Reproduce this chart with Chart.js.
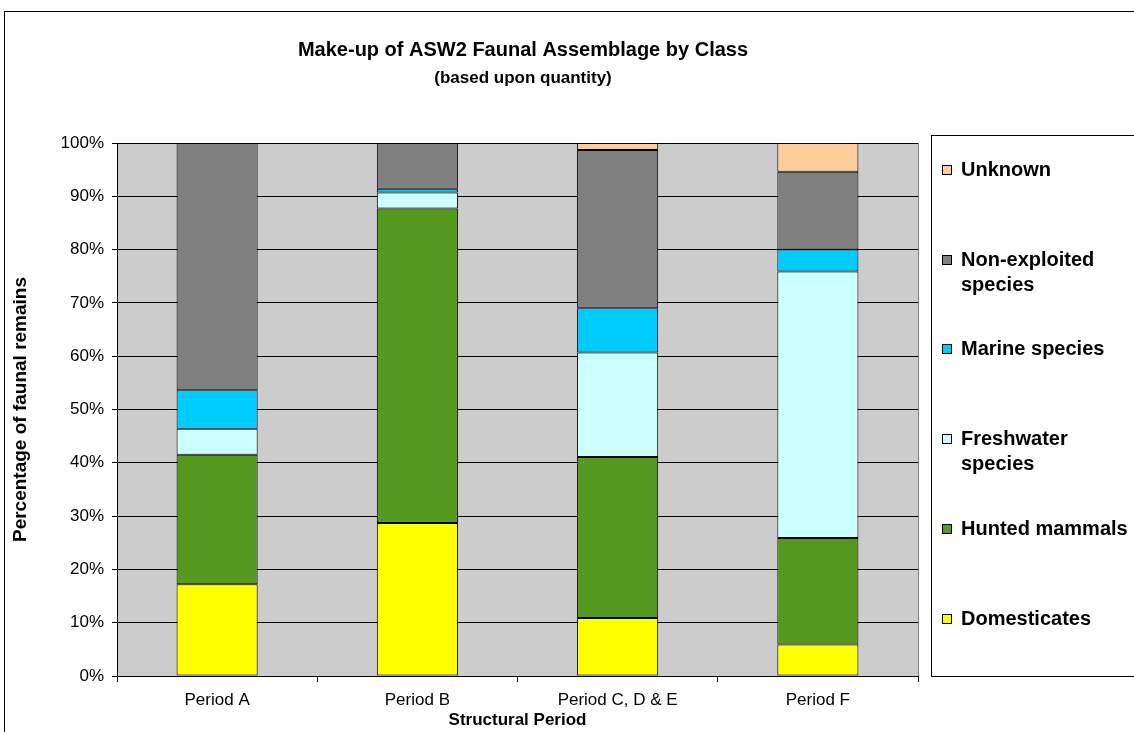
<!DOCTYPE html>
<html>
<head>
<meta charset="utf-8">
<script src="https://cdn.jsdelivr.net/npm/chart.js@4.4.1/dist/chart.umd.min.js"></script>
<style>
  html, body { margin: 0; padding: 0; background: #fff; }
  #wrap { width: 1134px; height: 732px; position: relative; }
</style>
</head>
<body>
<div id="wrap"><canvas id="myChart" width="1134" height="732"></canvas></div>
<script>
const categories = ['Period A', 'Period B', 'Period C, D & E', 'Period F'];
const domesticates = [17.2, 28.7, 10.9, 5.9];
const huntedMammals = [24.3, 59.0, 30.2, 20.0];
const freshwater = [4.9, 3.0, 19.6, 50.0];
const marine = [7.2, 0.7, 8.3, 4.1];
const nonExploited = [46.4, 8.6, 29.7, 14.6];
const unknown = [0, 0, 1.3, 5.4];
const yTickValues = [0, 10, 20, 30, 40, 50, 60, 70, 80, 90, 100];

const FONT = "'Liberation Sans', Arial, sans-serif";

const series = [
    { label: 'Domesticates', data: domesticates, color: '#FFFF00' },
    { label: 'Hunted mammals', data: huntedMammals, color: '#559A1E' },
    { label: 'Freshwater species', data: freshwater, color: '#CCFFFF' },
    { label: 'Marine species', data: marine, color: '#00CCFF' },
    { label: 'Non-exploited species', data: nonExploited, color: '#808080' },
    { label: 'Unknown', data: unknown, color: '#FFCC99' }
];

// legend entries, top to bottom (lines + y of first line)
const legendItems = [
    { lines: ['Unknown'], y: 170, color: '#FFCC99' },
    { lines: ['Non-exploited', 'species'], y: 260, color: '#808080' },
    { lines: ['Marine species'], y: 349, color: '#00CCFF' },
    { lines: ['Freshwater', 'species'], y: 439, color: '#CCFFFF' },
    { lines: ['Hunted mammals'], y: 529, color: '#559A1E' },
    { lines: ['Domesticates'], y: 619, color: '#FFFF00' }
];

const decor = {
    id: 'decor',
    beforeDraw(chart) {
        const c = chart.ctx, a = chart.chartArea;
        c.save();
        c.fillStyle = '#fff';
        c.fillRect(0, 0, chart.width, chart.height);
        c.fillStyle = '#CCCCCC';
        c.fillRect(a.left, a.top, a.right - a.left, a.bottom - a.top);
        c.strokeStyle = '#808080';
        c.lineWidth = 1;
        c.beginPath();
        c.moveTo(Math.round(a.right) + 0.5, a.top);
        c.lineTo(Math.round(a.right) + 0.5, a.bottom);
        c.stroke();
        c.restore();
    },
    afterDraw(chart) {
        const c = chart.ctx;
        c.save();
        // outer chart border
        c.strokeStyle = '#000';
        c.lineWidth = 1;
        c.strokeRect(4.5, 11.5, 1300, 900);
        // titles
        c.fillStyle = '#000';
        c.textAlign = 'center';
        c.textBaseline = 'middle';
        c.font = 'bold 20px ' + FONT;
        c.fillText('Make-up of ASW2 Faunal Assemblage by Class', 523, 50);
        c.font = 'bold 17px ' + FONT;
        c.fillText('(based upon quantity)', 523, 78);
        // legend box
        c.strokeRect(931.5, 135.5, 400, 541);
        c.textAlign = 'left';
        c.font = 'bold 20px ' + FONT;
        legendItems.forEach(it => {
            c.fillStyle = it.color;
            c.fillRect(942, it.y - 5, 10, 10);
            c.strokeStyle = '#000';
            c.strokeRect(942.5, it.y - 4.5, 9, 9);
            c.fillStyle = '#000';
            it.lines.forEach((ln, i) => c.fillText(ln, 961, it.y + i * 25));
        });
        c.restore();
    }
};

const ctx = document.getElementById('myChart');
new Chart(ctx, {
    type: 'bar',
    data: {
        labels: categories,
        datasets: series.map(s => ({
            label: s.label,
            data: s.data,
            backgroundColor: s.color,
            borderColor: '#000',
            borderWidth: 1,
            borderSkipped: false,
            categoryPercentage: 1,
            barPercentage: 0.405
        }))
    },
    options: {
        responsive: false,
        animation: false,
        layout: { padding: { left: 0, right: 216, top: 143, bottom: 0 } },
        plugins: { legend: { display: false }, title: { display: false }, tooltip: { enabled: false } },
        scales: {
            x: {
                stacked: true,
                afterFit(scale) { scale.height = 56; },
                grid: { offset: true, drawOnChartArea: false, drawTicks: true, tickLength: 6, color: '#000' },
                border: { color: '#000' },
                ticks: { color: '#000', font: { family: FONT, size: 17 }, padding: 8 },
                title: { display: true, text: 'Structural Period', color: '#000',
                         font: { family: FONT, size: 17, weight: 'bold' }, padding: { top: 0, bottom: 1 } }
            },
            y: {
                stacked: true,
                min: 0,
                max: 100,
                afterFit(scale) { scale.width = 117; },
                afterBuildTicks(scale) { scale.ticks = yTickValues.map(v => ({ value: v })); },
                grid: { color: '#000', tickLength: 5 },
                border: { color: '#000' },
                ticks: { color: '#000', font: { family: FONT, size: 17 }, padding: 8,
                         callback: v => v + '%' },
                title: { display: true, text: 'Percentage of faunal remains', color: '#000',
                         font: { family: FONT, size: 19, weight: 'bold' }, padding: { top: 9, bottom: 0 } }
            }
        }
    },
    plugins: [decor]
});
</script>
</body>
</html>
